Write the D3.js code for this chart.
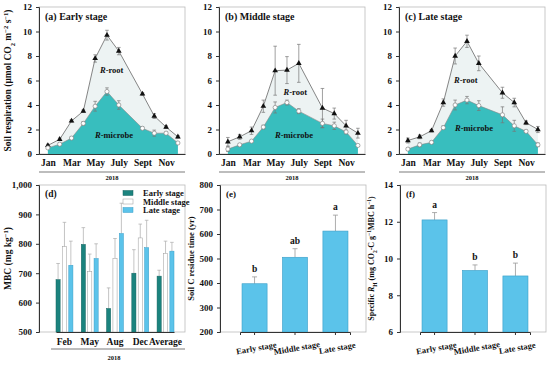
<!DOCTYPE html>
<html>
<head>
<meta charset="utf-8">
<script src="https://cdn.jsdelivr.net/npm/d3@7"></script>
<style>
  body { margin: 0; background: #fff; }
  svg text { font-family: "Liberation Serif", "DejaVu Serif", serif; font-weight: bold; fill: #111; }
  .tick text { font-size: 9px; }
  .tick line, .domain { stroke: #333; }
</style>
</head>
<body>
<svg id="chart" width="550" height="367"></svg>
<script>
// ---- data ----
var months = [1, 2, 3, 4, 5, 6, 7, 9, 10, 11, 12];
var monthTicks = [1, 3, 5, 7, 9, 11];
var monthLabels = ["Jan", "Mar", "May", "July", "Sept", "Nov"];

var earlyTotal = [0.7, 1.2, 2.7, 3.5, 7.8, 9.7, 8.4, 4.9, 3.1, 2.2, 1.4];
var earlyTotalErr = [0.1, 0.1, 0.1, 0.1, 0.3, 0.4, 0.3, 0.1, 0.2, 0.1, 0.1];
var earlyMicrobe = [0.5, 0.8, 1.3, 2.5, 3.9, 5.1, 4.0, 2.1, 1.7, 1.7, 0.9];
var earlyMicrobeErr = [0.05, 0.1, 0.1, 0.15, 0.4, 0.3, 0.35, 0.1, 0.25, 0.1, 0.05];

var middleTotal = [1.0, 1.4, 1.9, 3.9, 6.8, 6.85, 7.4, 3.75, 3.3, 2.3, 1.7];
var middleTotalErr = [0.35, 0.2, 0.3, 0.5, 2.0, 1.1, 1.55, 1.6, 0.45, 0.45, 0.4];
var middleMicrobe = [0.4, 0.75, 1.05, 2.2, 3.8, 4.2, 3.5, 2.5, 2.3, 1.8, 0.7];
var middleMicrobeErr = [0.2, 0.1, 0.05, 0.15, 0.45, 0.2, 0.2, 0.35, 0.3, 0.15, 0.05];

var lateTotal = [1.1, 1.4, 1.9, 4.2, 8.0, 9.2, 7.4, 5.0, 4.2, 2.55, 2.0];
var lateTotalErr = [0.2, 0.15, 0.1, 0.3, 0.65, 0.5, 0.6, 0.45, 0.35, 0.15, 0.25];
var lateMicrobe = [0.4, 0.75, 0.95, 2.15, 4.0, 4.4, 3.95, 3.2, 2.3, 1.85, 0.75];
var lateMicrobeErr = [0.1, 0.15, 0.1, 0.15, 0.4, 0.3, 0.4, 0.65, 0.45, 0.1, 0.15];

var mbcMonths = ["Feb", "May", "Aug", "Dec", "Average"];
var stages = ["Early stage", "Middle stage", "Late stage"];
var mbcEarly = [678, 798, 580, 700, 690];
var mbcEarlyErr = [55, 57, 70, 80, 20];
var mbcMiddle = [790, 705, 750, 820, 767];
var mbcMiddleErr = [83, 60, 68, 47, 42];
var mbcLate = [727, 750, 835, 787, 775];
var mbcLateErr = [82, 50, 103, 93, 30];

var residue = [397, 505, 612];
var residueErr = [28, 35, 65];
var residueLetters = ["b", "ab", "a"];

var specific = [12.1, 9.35, 9.05];
var specificErr = [0.4, 0.3, 0.7];
var specificLetters = ["a", "b", "b"];

// ---- drawing ----
var svg = d3.select("#chart");
var teal = "#38bebe", paleArea = "#edf3f3", barBlue = "#5bc3ea", darkTeal = "#1b837e";

function frame(g, x0, x1, y0, y1) {
  g.append("rect")
      .attr("x", x0).attr("y", y0)
      .attr("width", x1 - x0).attr("height", y1 - y0)
      .attr("fill", "none").attr("stroke", "#bbb").attr("stroke-width", 0.8);
}

// respiration panels
function respPanel(x0, title, total, totalErr, microbe, microbeErr, rootPos, micPos, withLabel) {
  var x1 = x0 + 146, y0 = 7, y1 = 154;
  var g = svg.append("g");
  var x = d3.scaleLinear().domain([0.25, 12.6]).range([x0, x1]);
  var y = d3.scaleLinear().domain([0, 12]).range([y1, y0]);

  frame(g, x0, x1, y0, y1);

  var totalPts = months.map(function(m, i) { return { m: m, v: total[i], e: totalErr[i] }; });
  var micPts = months.map(function(m, i) { return { m: m, v: microbe[i], e: microbeErr[i] }; });

  g.append("path").datum(totalPts)
      .attr("fill", paleArea)
      .attr("d", d3.area().x(function(d) { return x(d.m); }).y0(y1).y1(function(d) { return y(d.v); }));
  g.append("path").datum(micPts)
      .attr("fill", teal)
      .attr("d", d3.area().x(function(d) { return x(d.m); }).y0(y1).y1(function(d) { return y(d.v); }));

  var line = d3.line().x(function(d) { return x(d.m); }).y(function(d) { return y(d.v); });
  g.append("path").datum(totalPts).attr("fill", "none").attr("stroke", "#777").attr("stroke-width", 0.9).attr("d", line);
  g.append("path").datum(micPts).attr("fill", "none").attr("stroke", "#888").attr("stroke-width", 0.6).attr("d", line);

  [totalPts, micPts].forEach(function(pts) {
    var eg = g.append("g").attr("stroke", "#777").attr("stroke-width", 0.7);
    pts.forEach(function(d) {
      eg.append("line").attr("x1", x(d.m)).attr("x2", x(d.m)).attr("y1", y(d.v - d.e)).attr("y2", y(d.v + d.e));
      eg.append("line").attr("x1", x(d.m) - 1.8).attr("x2", x(d.m) + 1.8).attr("y1", y(d.v - d.e)).attr("y2", y(d.v - d.e));
      eg.append("line").attr("x1", x(d.m) - 1.8).attr("x2", x(d.m) + 1.8).attr("y1", y(d.v + d.e)).attr("y2", y(d.v + d.e));
    });
  });

  g.selectAll(".tri").data(totalPts).enter().append("path")
      .attr("transform", function(d) { return "translate(" + x(d.m) + "," + y(d.v) + ")"; })
      .attr("d", d3.symbol().type(d3.symbolTriangle).size(14))
      .attr("fill", "#111");
  g.selectAll(".circ").data(micPts).enter().append("circle")
      .attr("cx", function(d) { return x(d.m); }).attr("cy", function(d) { return y(d.v); })
      .attr("r", 2.1).attr("fill", "#fff").attr("stroke", "#888").attr("stroke-width", 0.7);

  g.append("g").attr("transform", "translate(" + x0 + ",0)")
      .call(d3.axisLeft(y).tickValues([0, 2, 4, 6, 8, 10, 12]).tickSize(3).tickPadding(4));
  var xa = g.append("g").attr("transform", "translate(0," + y1 + ")")
      .call(d3.axisBottom(x).tickValues(monthTicks).tickSize(0).tickPadding(5)
        .tickFormat(function(d, i) { return monthLabels[i]; }));
  xa.selectAll("text").style("font-size", "9.5px");

  g.append("line").attr("x1", x0).attr("x2", x1).attr("y1", 172).attr("y2", 172).attr("stroke", "#444").attr("stroke-width", 0.7);
  g.append("text").attr("x", (x0 + x1) / 2).attr("y", 180).attr("text-anchor", "middle").style("font-size", "6.5px").text("2018");

  g.append("text").attr("x", x0 + 6).attr("y", y0 + 13).style("font-size", "10px").text(title);

  var rt = g.append("text").attr("x", x(rootPos[0])).attr("y", y(rootPos[1])).attr("text-anchor", "middle").style("font-size", "8.5px");
  rt.append("tspan").style("font-style", "italic").text("R");
  rt.append("tspan").text("-root");
  var mt = g.append("text").attr("x", x(micPos[0])).attr("y", y(micPos[1])).attr("text-anchor", "middle").style("font-size", "8.5px");
  mt.append("tspan").style("font-style", "italic").text("R");
  mt.append("tspan").text("-microbe");

  if (withLabel) {
    var yl = g.append("text").attr("transform", "translate(11," + ((y0 + y1) / 2) + ") rotate(-90)")
        .attr("text-anchor", "middle").style("font-size", "9.5px");
    yl.append("tspan").text("Soil respiration (\u03bcmol CO");
    yl.append("tspan").attr("baseline-shift", "sub").style("font-size", "6.5px").text("2");
    yl.append("tspan").text(" m");
    yl.append("tspan").attr("baseline-shift", "super").style("font-size", "6.5px").text("\u22122");
    yl.append("tspan").text(" s");
    yl.append("tspan").attr("baseline-shift", "super").style("font-size", "6.5px").text("\u22121");
    yl.append("tspan").text(")");
  }
}

respPanel(39, "(a) Early stage", earlyTotal, earlyTotalErr, earlyMicrobe, earlyMicrobeErr, [6.4, 6.6], [6.6, 1.3], true);
respPanel(219, "(b) Middle stage", middleTotal, middleTotalErr, middleMicrobe, middleMicrobeErr, [6.7, 4.8], [6.6, 1.3], false);
respPanel(399, "(c) Late stage", lateTotal, lateTotalErr, lateMicrobe, lateMicrobeErr, [5.9, 5.8], [6.6, 1.9], false);

// (d) MBC grouped bars
(function() {
  var x0 = 39, x1 = 185, y0 = 185, y1 = 332;
  var g = svg.append("g");
  frame(g, x0, x1, y0, y1);
  var x = d3.scaleBand().domain(mbcMonths).range([x0 + 17, x1 - 11]).paddingInner(0.33).paddingOuter(0);
  var xs = d3.scaleBand().domain(stages).range([0, x.bandwidth()]).paddingInner(0.35);
  var y = d3.scaleLinear().domain([500, 1000]).range([y1, y0]);
  var series = [
    { vals: mbcEarly, errs: mbcEarlyErr, fill: darkTeal, stroke: "#14635f" },
    { vals: mbcMiddle, errs: mbcMiddleErr, fill: "#fff", stroke: "#999" },
    { vals: mbcLate, errs: mbcLateErr, fill: barBlue, stroke: "#3a9ec7" }
  ];
  series.forEach(function(s, si) {
    mbcMonths.forEach(function(m, i) {
      var bx = x(m) + xs(stages[si]), bw = xs.bandwidth(), cx = bx + bw / 2;
      g.append("line").attr("x1", cx).attr("x2", cx).attr("y1", y(s.vals[i])).attr("y2", y(s.vals[i] + s.errs[i]))
          .attr("stroke", "#aaa").attr("stroke-width", 0.7);
      g.append("line").attr("x1", cx - 1.8).attr("x2", cx + 1.8).attr("y1", y(s.vals[i] + s.errs[i])).attr("y2", y(s.vals[i] + s.errs[i]))
          .attr("stroke", "#aaa").attr("stroke-width", 0.7);
      g.append("rect").attr("x", bx).attr("y", y(s.vals[i])).attr("width", bw).attr("height", y1 - y(s.vals[i]))
          .attr("fill", s.fill).attr("stroke", s.stroke).attr("stroke-width", 0.5);
    });
  });
  g.append("g").attr("transform", "translate(" + x0 + ",0)")
      .call(d3.axisLeft(y).tickValues([500, 600, 700, 800, 900, 1000]).tickSize(3).tickPadding(4));
  var xa = g.append("g").attr("transform", "translate(0," + y1 + ")")
      .call(d3.axisBottom(x).tickSize(0).tickPadding(6));
  xa.select(".domain").attr("stroke", "#bbb");
  xa.selectAll("text").style("font-size", "9.5px");
  g.append("line").attr("x1", x0 + 12).attr("x2", x1).attr("y1", 349).attr("y2", 349).attr("stroke", "#444").attr("stroke-width", 0.7);
  g.append("text").attr("x", 114).attr("y", 360).attr("text-anchor", "middle").style("font-size", "6.5px").text("2018");
  g.append("text").attr("x", x0 + 6).attr("y", y0 + 12).style("font-size", "9.5px").text("(d)");

  series.forEach(function(s, si) {
    var ly = 193 + si * 8.5;
    g.append("rect").attr("x", 123).attr("y", ly - 2.5).attr("width", 10).attr("height", 5)
        .attr("fill", s.fill).attr("stroke", s.stroke).attr("stroke-width", 0.5);
    g.append("text").attr("x", 143).attr("y", ly + 3).style("font-size", "8.5px").text(stages[si]);
  });

  var yl = g.append("text").attr("transform", "translate(11," + ((y0 + y1) / 2) + ") rotate(-90)")
      .attr("text-anchor", "middle").style("font-size", "9.5px");
  yl.append("tspan").text("MBC (mg kg");
  yl.append("tspan").attr("baseline-shift", "super").style("font-size", "6.5px").text("\u22121");
  yl.append("tspan").text(")");
})();

// (e) and (f) simple bars
function simpleBars(x0, label, vals, errs, letters, domain, ticks, yLabelFn) {
  var x1 = x0 + 146, y0 = 185, y1 = 332;
  var g = svg.append("g");
  frame(g, x0, x1, y0, y1);
  var x = d3.scaleBand().domain(stages).range([x0 + 20, x1 - 16]).paddingInner(0.38).paddingOuter(0.05);
  var y = d3.scaleLinear().domain(domain).range([y1, y0]);
  stages.forEach(function(s, i) {
    var bx = x(s), bw = x.bandwidth(), cx = bx + bw / 2;
    var top = y(vals[i] + errs[i]);
    g.append("line").attr("x1", cx).attr("x2", cx).attr("y1", y(vals[i])).attr("y2", top).attr("stroke", "#999").attr("stroke-width", 0.8);
    g.append("line").attr("x1", cx - 2.5).attr("x2", cx + 2.5).attr("y1", top).attr("y2", top).attr("stroke", "#999").attr("stroke-width", 0.8);
    g.append("rect").attr("x", bx).attr("y", y(vals[i])).attr("width", bw).attr("height", y1 - y(vals[i]))
        .attr("fill", barBlue).attr("stroke", "#3a9ec7").attr("stroke-width", 0.6);
    g.append("text").attr("x", cx).attr("y", top - 5).attr("text-anchor", "middle").style("font-size", "9.5px").text(letters[i]);
  });
  g.append("g").attr("transform", "translate(" + x0 + ",0)")
      .call(d3.axisLeft(y).tickValues(ticks).tickSize(3).tickPadding(4));
  var xa = g.append("g").attr("transform", "translate(0," + y1 + ")")
      .call(d3.axisBottom(x).tickSize(3).tickPadding(4));
  xa.select(".domain").attr("stroke", "#bbb");
  xa.selectAll("text")
      .style("font-size", "8.5px")
      .attr("text-anchor", "middle")
      .attr("transform", "translate(0,6) rotate(-10)");
  g.append("text").attr("x", x0 + 6).attr("y", y0 + 12).style("font-size", "9px").text(label);
  yLabelFn(g.append("text").attr("transform", "translate(" + (x0 - 26) + "," + ((y0 + y1) / 2) + ") rotate(-90)")
      .attr("text-anchor", "middle").style("font-size", "8.5px"));
}

simpleBars(220, "(e)", residue, residueErr, residueLetters, [200, 800], [200, 300, 400, 500, 600, 700, 800], function(t) {
  t.text("Soil C residue time (yr)");
});
simpleBars(400, "(f)", specific, specificErr, specificLetters, [6, 14], [6, 8, 10, 12, 14], function(t) {
  t.style("font-size", "8px");
  t.append("tspan").text("Specific ");
  t.append("tspan").style("font-style", "italic").text("R");
  t.append("tspan").attr("baseline-shift", "sub").style("font-size", "5.5px").text("H");
  t.append("tspan").text(" (mg CO");
  t.append("tspan").attr("baseline-shift", "sub").style("font-size", "5.5px").text("2");
  t.append("tspan").text("-C g");
  t.append("tspan").attr("baseline-shift", "super").style("font-size", "5.5px").text("\u22121");
  t.append("tspan").text("MBC h");
  t.append("tspan").attr("baseline-shift", "super").style("font-size", "5.5px").text("\u22121");
  t.append("tspan").text(")");
});
</script>
</body>
</html>
